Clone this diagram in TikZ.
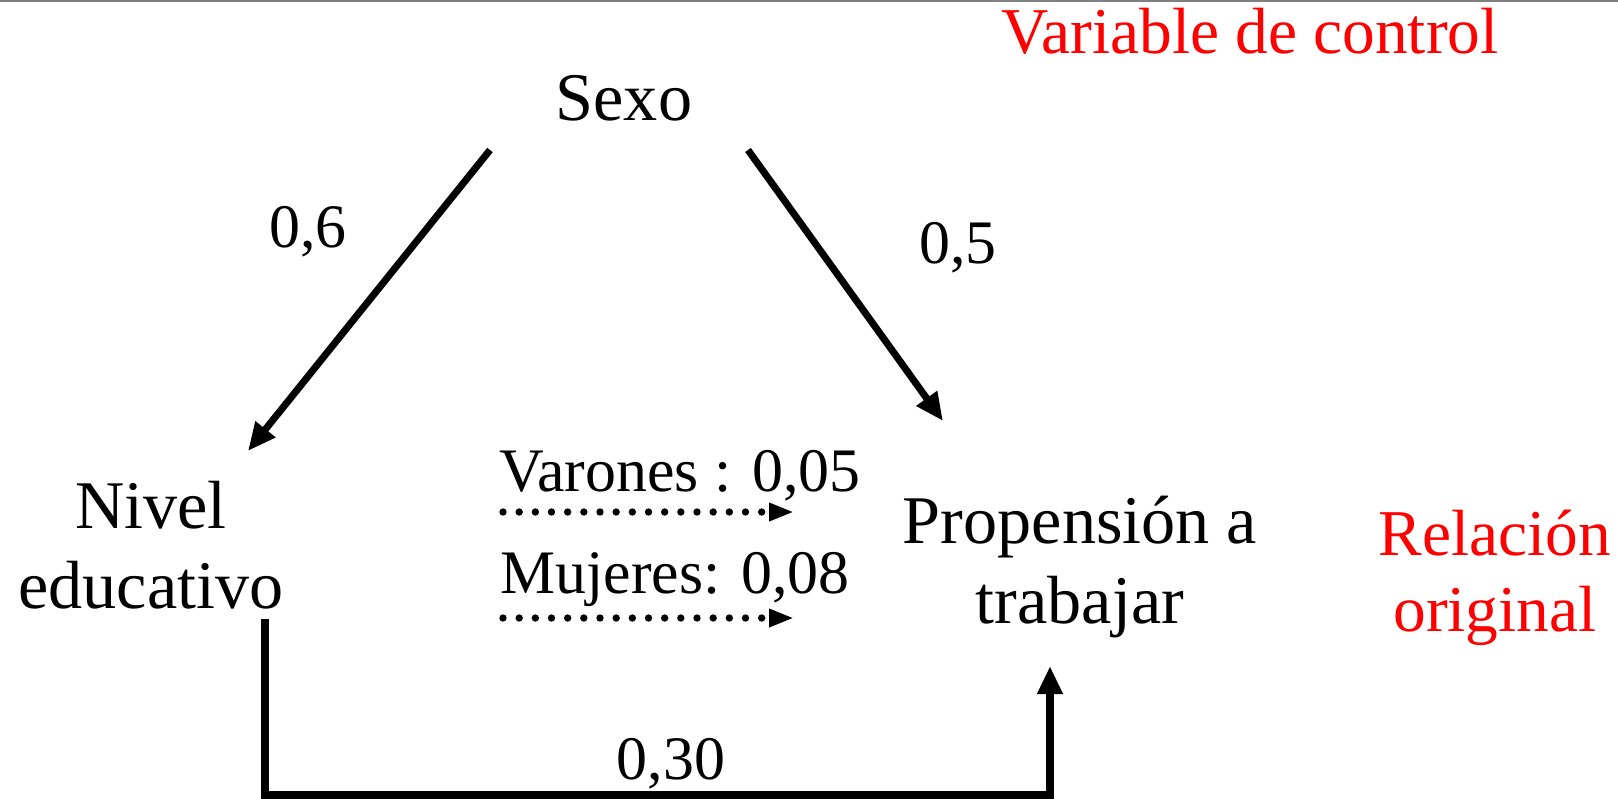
\documentclass[tikz,border=0pt]{standalone}
\usepackage{fontspec}
\setmainfont{Liberation Serif}
\usetikzlibrary{arrows.meta}

\tikzset{
    txt/.style={font=\fontsize{19.4}{22.6}\selectfont, inner sep=0pt, align=center},
    peso/.style={font=\fontsize{17.6}{20}\selectfont, inner sep=0pt},
    rojo/.style={font=\fontsize{18.6}{21.6}\selectfont, inner sep=0pt, align=center, text=red},
    flecha/.style={line width=2pt, -{Triangle[length=0.28cm, width=0.24cm]}},
    punteada/.style={line width=2.1pt, line cap=round, dash pattern=on 0pt off 4.6pt, -{Triangle[length=0.25cm, width=0.17cm]}}
}

\begin{document}
\begin{tikzpicture}
    \useasboundingbox (0,0) rectangle (16.18,-7.99);
    \draw[gray, line width=0.8pt] (0,-0.01) -- (16.18,-0.01);

    \node[txt] (sexo) at (6.24, -0.98) {Sexo};
    \node[txt] (nivel) at (1.51, -5.45) {Nivel\\educativo};
    \node[txt] (propension) at (10.80, -5.67) {Propensión a\\trabajar};
    \node[rojo] (control) at (12.50, -0.31) {Variable de control};
    \node[rojo] (relacion) at (14.95, -5.78) {Relación\\original};

    \node[peso] (pesoNS) at (3.08, -2.32) {0,6};
    \node[peso] (pesoSP) at (9.58, -2.48) {0,5};
    \node[peso] (pesoNP) at (6.71, -7.64) {0,30};
    \node[peso] (varones) at (6.80, -4.76) {Varones : 0,05};
    \node[peso] (mujeres) at (6.75, -5.80) {Mujeres: 0,08};

    \coordinate (sexoIzq) at (4.90, -1.50);
    \coordinate (sexoDer) at (7.48, -1.50);
    \coordinate (nivelSup) at (2.48, -4.51);
    \coordinate (propSup) at (9.43, -4.21);
    \coordinate (nivelInf) at (2.65, -6.19);
    \coordinate (propInf) at (10.50, -6.66);
    \coordinate (vIni) at (5.03, -5.12);
    \coordinate (vFin) at (7.94, -5.12);
    \coordinate (mIni) at (5.03, -6.18);
    \coordinate (mFin) at (7.94, -6.18);

    \draw[flecha] (sexoIzq) -- (nivelSup);
    \draw[flecha] (sexoDer) -- (propSup);
    \draw[flecha] (nivelInf) -- ++(0,-1.76) -| (propInf);
    \draw[punteada] (vIni) -- (vFin);
    \draw[punteada] (mIni) -- (mFin);
\end{tikzpicture}
\end{document}
